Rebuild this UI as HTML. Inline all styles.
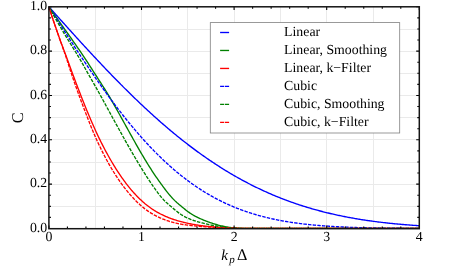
<!DOCTYPE html>
<html><head><meta charset="utf-8"><title>chart</title>
<style>
html,body{margin:0;padding:0;background:#fff;}
body{width:457px;height:274px;position:relative;overflow:hidden;font-family:"Liberation Serif",serif;}
svg text{font-family:"Liberation Serif",serif;fill:#000;text-rendering:geometricPrecision;}
</style></head><body>
<div id="wrap" style="position:absolute;left:0;top:0;width:457px;height:274px;background:#fff;will-change:transform;transform:translateZ(0)">
<svg width="457" height="274" viewBox="0 0 457 274" style="position:absolute;left:0;top:0">
<rect x="0" y="0" width="457" height="274" fill="#fff"/>
<path d="M95.5,6.8V228.5M141.5,6.8V228.5M187.5,6.8V228.5M234.5,6.8V228.5M280.5,6.8V228.5M326.5,6.8V228.5M373.5,6.8V228.5M48.9,206.5H419.3M48.9,184.5H419.3M48.9,162.5H419.3M48.9,139.5H419.3M48.9,117.5H419.3M48.9,95.5H419.3M48.9,73.5H419.3M48.9,51.5H419.3M48.9,29.5H419.3" stroke="#eaeaea" stroke-width="1" fill="none"/>
<clipPath id="c"><rect x="48.9" y="6.8" width="370.40000000000003" height="221.45"/></clipPath>
<g clip-path="url(#c)" fill="none" stroke-width="1.35" stroke-linejoin="round">
<path d="M48.90,6.80 L49.90,7.92 L50.90,9.04 L51.90,10.16 L52.90,11.27 L53.91,12.39 L54.91,13.51 L55.91,14.63 L56.91,15.74 L57.91,16.86 L58.91,17.98 L59.91,19.09 L60.91,20.21 L61.91,21.32 L62.92,22.44 L63.92,23.55 L64.92,24.66 L65.92,25.78 L66.92,26.89 L67.92,28.00 L68.92,29.11 L69.92,30.22 L70.92,31.32 L71.92,32.43 L72.93,33.54 L73.93,34.64 L74.93,35.74 L75.93,36.85 L76.93,37.95 L77.93,39.05 L78.93,40.15 L79.93,41.24 L80.93,42.34 L81.94,43.43 L82.94,44.53 L83.94,45.62 L84.94,46.71 L85.94,47.80 L86.94,48.88 L87.94,49.97 L88.94,51.05 L89.94,52.13 L90.95,53.21 L91.95,54.29 L92.95,55.37 L93.95,56.44 L94.95,57.51 L95.95,58.58 L96.95,59.65 L97.95,60.72 L98.95,61.78 L99.96,62.84 L100.96,63.90 L101.96,64.96 L102.96,66.02 L103.96,67.07 L104.96,68.12 L105.96,69.17 L106.96,70.22 L107.96,71.26 L108.96,72.30 L109.97,73.34 L110.97,74.38 L111.97,75.41 L112.97,76.44 L113.97,77.47 L114.97,78.50 L115.97,79.52 L116.97,80.54 L117.97,81.56 L118.98,82.57 L119.98,83.59 L120.98,84.60 L121.98,85.60 L122.98,86.61 L123.98,87.61 L124.98,88.61 L125.98,89.60 L126.98,90.60 L127.99,91.58 L128.99,92.57 L129.99,93.55 L130.99,94.53 L131.99,95.51 L132.99,96.49 L133.99,97.46 L134.99,98.42 L135.99,99.39 L137.00,100.35 L138.00,101.31 L139.00,102.26 L140.00,103.21 L141.00,104.16 L142.00,105.11 L143.00,106.05 L144.00,106.99 L145.00,107.92 L146.00,108.85 L147.01,109.78 L148.01,110.70 L149.01,111.62 L150.01,112.54 L151.01,113.45 L152.01,114.36 L153.01,115.27 L154.01,116.17 L155.01,117.07 L156.02,117.97 L157.02,118.86 L158.02,119.75 L159.02,120.63 L160.02,121.51 L161.02,122.39 L162.02,123.26 L163.02,124.13 L164.02,125.00 L165.03,125.86 L166.03,126.72 L167.03,127.57 L168.03,128.42 L169.03,129.27 L170.03,130.11 L171.03,130.95 L172.03,131.78 L173.03,132.61 L174.04,133.44 L175.04,134.26 L176.04,135.08 L177.04,135.90 L178.04,136.71 L179.04,137.51 L180.04,138.32 L181.04,139.12 L182.04,139.91 L183.04,140.70 L184.05,141.49 L185.05,142.27 L186.05,143.05 L187.05,143.82 L188.05,144.60 L189.05,145.36 L190.05,146.12 L191.05,146.88 L192.05,147.64 L193.06,148.39 L194.06,149.13 L195.06,149.88 L196.06,150.61 L197.06,151.35 L198.06,152.08 L199.06,152.80 L200.06,153.52 L201.06,154.24 L202.07,154.95 L203.07,155.66 L204.07,156.37 L205.07,157.07 L206.07,157.76 L207.07,158.45 L208.07,159.14 L209.07,159.83 L210.07,160.51 L211.08,161.18 L212.08,161.85 L213.08,162.52 L214.08,163.18 L215.08,163.84 L216.08,164.49 L217.08,165.14 L218.08,165.79 L219.08,166.43 L220.08,167.07 L221.09,167.70 L222.09,168.33 L223.09,168.96 L224.09,169.58 L225.09,170.20 L226.09,170.81 L227.09,171.42 L228.09,172.02 L229.09,172.62 L230.10,173.22 L231.10,173.81 L232.10,174.40 L233.10,174.98 L234.10,175.56 L235.10,176.13 L236.10,176.71 L237.10,177.27 L238.10,177.84 L239.11,178.39 L240.11,178.95 L241.11,179.50 L242.11,180.05 L243.11,180.59 L244.11,181.13 L245.11,181.66 L246.11,182.19 L247.11,182.72 L248.12,183.24 L249.12,183.76 L250.12,184.27 L251.12,184.78 L252.12,185.29 L253.12,185.79 L254.12,186.29 L255.12,186.78 L256.12,187.27 L257.12,187.76 L258.13,188.24 L259.13,188.72 L260.13,189.19 L261.13,189.66 L262.13,190.13 L263.13,190.59 L264.13,191.05 L265.13,191.51 L266.13,191.96 L267.14,192.41 L268.14,192.85 L269.14,193.29 L270.14,193.72 L271.14,194.16 L272.14,194.58 L273.14,195.01 L274.14,195.43 L275.14,195.85 L276.15,196.26 L277.15,196.67 L278.15,197.08 L279.15,197.48 L280.15,197.88 L281.15,198.27 L282.15,198.66 L283.15,199.05 L284.15,199.43 L285.16,199.81 L286.16,200.19 L287.16,200.56 L288.16,200.93 L289.16,201.30 L290.16,201.66 L291.16,202.02 L292.16,202.38 L293.16,202.73 L294.16,203.08 L295.17,203.43 L296.17,203.77 L297.17,204.11 L298.17,204.44 L299.17,204.77 L300.17,205.10 L301.17,205.43 L302.17,205.75 L303.17,206.07 L304.18,206.38 L305.18,206.70 L306.18,207.00 L307.18,207.31 L308.18,207.61 L309.18,207.91 L310.18,208.21 L311.18,208.50 L312.18,208.79 L313.19,209.08 L314.19,209.36 L315.19,209.64 L316.19,209.92 L317.19,210.19 L318.19,210.46 L319.19,210.73 L320.19,211.00 L321.19,211.26 L322.20,211.52 L323.20,211.78 L324.20,212.03 L325.20,212.28 L326.20,212.53 L327.20,212.78 L328.20,213.02 L329.20,213.26 L330.20,213.49 L331.20,213.73 L332.21,213.96 L333.21,214.19 L334.21,214.41 L335.21,214.64 L336.21,214.86 L337.21,215.07 L338.21,215.29 L339.21,215.50 L340.21,215.71 L341.22,215.92 L342.22,216.12 L343.22,216.33 L344.22,216.53 L345.22,216.72 L346.22,216.92 L347.22,217.11 L348.22,217.30 L349.22,217.49 L350.23,217.67 L351.23,217.85 L352.23,218.03 L353.23,218.21 L354.23,218.39 L355.23,218.56 L356.23,218.73 L357.23,218.90 L358.23,219.07 L359.24,219.23 L360.24,219.39 L361.24,219.55 L362.24,219.71 L363.24,219.87 L364.24,220.02 L365.24,220.17 L366.24,220.32 L367.24,220.47 L368.24,220.61 L369.25,220.76 L370.25,220.90 L371.25,221.04 L372.25,221.17 L373.25,221.31 L374.25,221.44 L375.25,221.57 L376.25,221.70 L377.25,221.83 L378.26,221.96 L379.26,222.08 L380.26,222.20 L381.26,222.32 L382.26,222.44 L383.26,222.56 L384.26,222.67 L385.26,222.78 L386.26,222.90 L387.27,223.00 L388.27,223.11 L389.27,223.22 L390.27,223.32 L391.27,223.43 L392.27,223.53 L393.27,223.63 L394.27,223.73 L395.27,223.82 L396.28,223.92 L397.28,224.01 L398.28,224.10 L399.28,224.19 L400.28,224.28 L401.28,224.37 L402.28,224.46 L403.28,224.54 L404.28,224.63 L405.28,224.71 L406.29,224.79 L407.29,224.87 L408.29,224.94 L409.29,225.02 L410.29,225.10 L411.29,225.17 L412.29,225.24 L413.29,225.31 L414.29,225.39 L415.30,225.45 L416.30,225.52 L417.30,225.59 L418.30,225.65 L419.30,225.72" stroke="#0000ff"/>
<path d="M48.90,6.80 L49.90,8.24 L50.90,9.67 L51.90,11.10 L52.90,12.52 L53.91,13.95 L54.91,15.37 L55.91,16.79 L56.91,18.21 L57.91,19.62 L58.91,21.04 L59.91,22.46 L60.91,23.87 L61.91,25.28 L62.92,26.69 L63.92,28.11 L64.92,29.52 L65.92,30.93 L66.92,32.34 L67.92,33.75 L68.92,35.17 L69.92,36.58 L70.92,38.00 L71.92,39.42 L72.93,40.85 L73.93,42.27 L74.93,43.71 L75.93,45.14 L76.93,46.58 L77.93,48.02 L78.93,49.47 L79.93,50.92 L80.93,52.38 L81.94,53.86 L82.94,55.35 L83.94,56.85 L84.94,58.36 L85.94,59.88 L86.94,61.42 L87.94,62.96 L88.94,64.51 L89.94,66.06 L90.95,67.62 L91.95,69.18 L92.95,70.74 L93.95,72.30 L94.95,73.86 L95.95,75.41 L96.95,76.96 L97.95,78.51 L98.95,80.07 L99.96,81.62 L100.96,83.17 L101.96,84.74 L102.96,86.30 L103.96,87.88 L104.96,89.47 L105.96,91.07 L106.96,92.68 L107.96,94.31 L108.96,95.95 L109.97,97.63 L110.97,99.32 L111.97,101.05 L112.97,102.79 L113.97,104.55 L114.97,106.32 L115.97,108.10 L116.97,109.90 L117.97,111.70 L118.98,113.49 L119.98,115.29 L120.98,117.09 L121.98,118.88 L122.98,120.67 L123.98,122.48 L124.98,124.28 L125.98,126.10 L126.98,127.91 L127.99,129.72 L128.99,131.53 L129.99,133.34 L130.99,135.14 L131.99,136.94 L132.99,138.73 L133.99,140.51 L134.99,142.29 L135.99,144.06 L137.00,145.82 L138.00,147.58 L139.00,149.33 L140.00,151.07 L141.00,152.80 L142.00,154.51 L143.00,156.21 L144.00,157.90 L145.00,159.57 L146.00,161.22 L147.01,162.86 L148.01,164.48 L149.01,166.08 L150.01,167.66 L151.01,169.22 L152.01,170.77 L153.01,172.30 L154.01,173.81 L155.01,175.30 L156.02,176.77 L157.02,178.23 L158.02,179.66 L159.02,181.08 L160.02,182.47 L161.02,183.85 L162.02,185.22 L163.02,186.57 L164.02,187.92 L165.03,189.25 L166.03,190.55 L167.03,191.84 L168.03,193.09 L169.03,194.32 L170.03,195.51 L171.03,196.66 L172.03,197.78 L173.03,198.85 L174.04,199.89 L175.04,200.88 L176.04,201.82 L177.04,202.72 L178.04,203.58 L179.04,204.42 L180.04,205.26 L181.04,206.08 L182.04,206.92 L183.04,207.75 L184.05,208.57 L185.05,209.38 L186.05,210.17 L187.05,210.94 L188.05,211.69 L189.05,212.41 L190.05,213.11 L191.05,213.77 L192.05,214.40 L193.06,215.00 L194.06,215.57 L195.06,216.12 L196.06,216.64 L197.06,217.15 L198.06,217.64 L199.06,218.11 L200.06,218.56 L201.06,219.00 L202.07,219.43 L203.07,219.85 L204.07,220.26 L205.07,220.66 L206.07,221.05 L207.07,221.43 L208.07,221.80 L209.07,222.17 L210.07,222.52 L211.08,222.87 L212.08,223.21 L213.08,223.55 L214.08,223.87 L215.08,224.18 L216.08,224.48 L217.08,224.77 L218.08,225.05 L219.08,225.31 L220.08,225.56 L221.09,225.80 L222.09,226.03 L223.09,226.24 L224.09,226.44 L225.09,226.63 L226.09,226.81 L227.09,226.98 L228.09,227.15 L229.09,227.30 L230.10,227.44 L231.10,227.57 L232.10,227.68 L233.10,227.78 L234.10,227.87 L235.10,227.95 L236.10,228.01 L237.10,228.08 L238.10,228.13 L239.11,228.18 L240.11,228.22 L241.11,228.26 L242.11,228.29 L243.11,228.32 L244.11,228.34 L245.11,228.37 L246.11,228.38 L247.11,228.40 L248.12,228.41 L249.12,228.43 L250.12,228.44 L251.12,228.45 L252.12,228.45 L253.12,228.46 L254.12,228.47 L255.12,228.47 L256.12,228.48 L257.12,228.48 L419.30,228.50" stroke="#008000"/>
<path d="M48.90,6.80 L49.90,9.95 L50.90,13.06 L51.90,16.13 L52.90,19.17 L53.91,22.18 L54.91,25.14 L55.91,28.08 L56.91,30.97 L57.91,33.83 L58.91,36.64 L59.91,39.42 L60.91,42.16 L61.91,44.87 L62.92,47.56 L63.92,50.22 L64.92,52.87 L65.92,55.55 L66.92,58.27 L67.92,61.01 L68.92,63.77 L69.92,66.53 L70.92,69.29 L71.92,72.01 L72.93,74.69 L73.93,77.36 L74.93,80.02 L75.93,82.66 L76.93,85.29 L77.93,87.91 L78.93,90.52 L79.93,93.10 L80.93,95.67 L81.94,98.23 L82.94,100.76 L83.94,103.27 L84.94,105.76 L85.94,108.22 L86.94,110.66 L87.94,113.08 L88.94,115.46 L89.94,117.82 L90.95,120.17 L91.95,122.49 L92.95,124.78 L93.95,127.05 L94.95,129.29 L95.95,131.49 L96.95,133.65 L97.95,135.78 L98.95,137.86 L99.96,139.91 L100.96,141.93 L101.96,143.91 L102.96,145.87 L103.96,147.80 L104.96,149.70 L105.96,151.57 L106.96,153.42 L107.96,155.24 L108.96,157.03 L109.97,158.80 L110.97,160.53 L111.97,162.24 L112.97,163.92 L113.97,165.57 L114.97,167.19 L115.97,168.79 L116.97,170.36 L117.97,171.90 L118.98,173.42 L119.98,174.91 L120.98,176.38 L121.98,177.81 L122.98,179.23 L123.98,180.61 L124.98,181.97 L125.98,183.30 L126.98,184.61 L127.99,185.89 L128.99,187.14 L129.99,188.36 L130.99,189.56 L131.99,190.73 L132.99,191.87 L133.99,192.98 L134.99,194.07 L135.99,195.13 L137.00,196.17 L138.00,197.19 L139.00,198.18 L140.00,199.15 L141.00,200.10 L142.00,201.02 L143.00,201.92 L144.00,202.79 L145.00,203.65 L146.00,204.47 L147.01,205.28 L148.01,206.06 L149.01,206.82 L150.01,207.56 L151.01,208.27 L152.01,208.96 L153.01,209.63 L154.01,210.28 L155.01,210.90 L156.02,211.51 L157.02,212.09 L158.02,212.65 L159.02,213.20 L160.02,213.73 L161.02,214.24 L162.02,214.73 L163.02,215.21 L164.02,215.67 L165.03,216.12 L166.03,216.56 L167.03,216.98 L168.03,217.38 L169.03,217.78 L170.03,218.16 L171.03,218.53 L172.03,218.89 L173.03,219.24 L174.04,219.58 L175.04,219.91 L176.04,220.23 L177.04,220.54 L178.04,220.84 L179.04,221.14 L180.04,221.42 L181.04,221.69 L182.04,221.96 L183.04,222.22 L184.05,222.47 L185.05,222.71 L186.05,222.94 L187.05,223.16 L188.05,223.38 L189.05,223.58 L190.05,223.78 L191.05,223.97 L192.05,224.16 L193.06,224.34 L194.06,224.51 L195.06,224.68 L196.06,224.84 L197.06,225.00 L198.06,225.15 L199.06,225.30 L200.06,225.44 L201.06,225.57 L202.07,225.71 L203.07,225.83 L204.07,225.96 L205.07,226.08 L206.07,226.19 L207.07,226.30 L208.07,226.41 L209.07,226.52 L210.07,226.62 L211.08,226.71 L212.08,226.81 L213.08,226.90 L214.08,226.99 L215.08,227.07 L216.08,227.15 L217.08,227.23 L218.08,227.31 L219.08,227.38 L220.08,227.46 L221.09,227.52 L222.09,227.59 L223.09,227.65 L224.09,227.71 L225.09,227.77 L226.09,227.83 L227.09,227.89 L228.09,227.94 L229.09,227.99 L230.10,228.04 L231.10,228.09 L232.10,228.13 L233.10,228.16 L234.10,228.20 L235.10,228.23 L236.10,228.26 L237.10,228.28 L238.10,228.30 L239.11,228.33 L240.11,228.34 L241.11,228.36 L242.11,228.38 L243.11,228.39 L244.11,228.40 L245.11,228.41 L246.11,228.42 L247.11,228.43 L248.12,228.44 L249.12,228.45 L250.12,228.45 L251.12,228.46 L252.12,228.46 L253.12,228.47 L254.12,228.47 L255.12,228.48 L256.12,228.48 L419.30,228.50" stroke="#ff0000"/>
<path d="M48.90,6.80 L49.90,8.37 L50.90,9.94 L51.90,11.51 L52.90,13.08 L53.91,14.65 L54.91,16.22 L55.91,17.79 L56.91,19.36 L57.91,20.93 L58.91,22.49 L59.91,24.06 L60.91,25.62 L61.91,27.18 L62.92,28.74 L63.92,30.30 L64.92,31.86 L65.92,33.41 L66.92,34.96 L67.92,36.51 L68.92,38.06 L69.92,39.61 L70.92,41.15 L71.92,42.69 L72.93,44.22 L73.93,45.76 L74.93,47.29 L75.93,48.82 L76.93,50.34 L77.93,51.86 L78.93,53.38 L79.93,54.90 L80.93,56.41 L81.94,57.91 L82.94,59.42 L83.94,60.91 L84.94,62.41 L85.94,63.90 L86.94,65.38 L87.94,66.87 L88.94,68.34 L89.94,69.82 L90.95,71.28 L91.95,72.75 L92.95,74.20 L93.95,75.66 L94.95,77.11 L95.95,78.55 L96.95,79.99 L97.95,81.42 L98.95,82.84 L99.96,84.27 L100.96,85.68 L101.96,87.09 L102.96,88.49 L103.96,89.89 L104.96,91.28 L105.96,92.67 L106.96,94.05 L107.96,95.42 L108.96,96.79 L109.97,98.15 L110.97,99.51 L111.97,100.85 L112.97,102.20 L113.97,103.53 L114.97,104.86 L115.97,106.18 L116.97,107.49 L117.97,108.80 L118.98,110.10 L119.98,111.40 L120.98,112.68 L121.98,113.96 L122.98,115.23 L123.98,116.50 L124.98,117.76 L125.98,119.01 L126.98,120.25 L127.99,121.49 L128.99,122.71 L129.99,123.93 L130.99,125.15 L131.99,126.35 L132.99,127.55 L133.99,128.74 L134.99,129.92 L135.99,131.09 L137.00,132.26 L138.00,133.42 L139.00,134.57 L140.00,135.71 L141.00,136.84 L142.00,137.97 L143.00,139.09 L144.00,140.20 L145.00,141.30 L146.00,142.39 L147.01,143.48 L148.01,144.56 L149.01,145.63 L150.01,146.69 L151.01,147.74 L152.01,148.79 L153.01,149.82 L154.01,150.85 L155.01,151.87 L156.02,152.88 L157.02,153.88 L158.02,154.88 L159.02,155.86 L160.02,156.84 L161.02,157.81 L162.02,158.77 L163.02,159.73 L164.02,160.67 L165.03,161.61 L166.03,162.53 L167.03,163.45 L168.03,164.36 L169.03,165.27 L170.03,166.16 L171.03,167.05 L172.03,167.93 L173.03,168.79 L174.04,169.66 L175.04,170.51 L176.04,171.35 L177.04,172.19 L178.04,173.02 L179.04,173.84 L180.04,174.65 L181.04,175.45 L182.04,176.24 L183.04,177.03 L184.05,177.81 L185.05,178.58 L186.05,179.34 L187.05,180.10 L188.05,180.84 L189.05,181.58 L190.05,182.31 L191.05,183.03 L192.05,183.75 L193.06,184.45 L194.06,185.15 L195.06,185.84 L196.06,186.53 L197.06,187.20 L198.06,187.87 L199.06,188.53 L200.06,189.18 L201.06,189.82 L202.07,190.46 L203.07,191.09 L204.07,191.71 L205.07,192.32 L206.07,192.93 L207.07,193.53 L208.07,194.12 L209.07,194.70 L210.07,195.28 L211.08,195.85 L212.08,196.41 L213.08,196.97 L214.08,197.51 L215.08,198.05 L216.08,198.59 L217.08,199.11 L218.08,199.63 L219.08,200.15 L220.08,200.65 L221.09,201.15 L222.09,201.65 L223.09,202.13 L224.09,202.61 L225.09,203.08 L226.09,203.55 L227.09,204.01 L228.09,204.46 L229.09,204.91 L230.10,205.35 L231.10,205.78 L232.10,206.21 L233.10,206.63 L234.10,207.05 L235.10,207.46 L236.10,207.86 L237.10,208.26 L238.10,208.65 L239.11,209.03 L240.11,209.41 L241.11,209.79 L242.11,210.16 L243.11,210.52 L244.11,210.87 L245.11,211.23 L246.11,211.57 L247.11,211.91 L248.12,212.25 L249.12,212.58 L250.12,212.90 L251.12,213.22 L252.12,213.53 L253.12,213.84 L254.12,214.15 L255.12,214.45 L256.12,214.74 L257.12,215.03 L258.13,215.31 L259.13,215.59 L260.13,215.87 L261.13,216.14 L262.13,216.40 L263.13,216.66 L264.13,216.92 L265.13,217.17 L266.13,217.42 L267.14,217.66 L268.14,217.90 L269.14,218.13 L270.14,218.36 L271.14,218.59 L272.14,218.81 L273.14,219.03 L274.14,219.24 L275.14,219.45 L276.15,219.66 L277.15,219.86 L278.15,220.06 L279.15,220.25 L280.15,220.44 L281.15,220.63 L282.15,220.82 L283.15,221.00 L284.15,221.17 L285.16,221.35 L286.16,221.52 L287.16,221.68 L288.16,221.85 L289.16,222.01 L290.16,222.16 L291.16,222.32 L292.16,222.47 L293.16,222.62 L294.16,222.76 L295.17,222.90 L296.17,223.04 L297.17,223.18 L298.17,223.31 L299.17,223.44 L300.17,223.57 L301.17,223.69 L302.17,223.81 L303.17,223.93 L304.18,224.05 L305.18,224.17 L306.18,224.28 L307.18,224.39 L308.18,224.49 L309.18,224.60 L310.18,224.70 L311.18,224.80 L312.18,224.90 L313.19,225.00 L314.19,225.09 L315.19,225.18 L316.19,225.27 L317.19,225.36 L318.19,225.44 L319.19,225.53 L320.19,225.61 L321.19,225.69 L322.20,225.77 L323.20,225.84 L324.20,225.92 L325.20,225.99 L326.20,226.06 L327.20,226.13 L328.20,226.20 L329.20,226.26 L330.20,226.33 L331.20,226.39 L332.21,226.45 L333.21,226.51 L334.21,226.57 L335.21,226.62 L336.21,226.68 L337.21,226.73 L338.21,226.78 L339.21,226.84 L340.21,226.89 L341.22,226.93 L342.22,226.98 L343.22,227.03 L344.22,227.07 L345.22,227.12 L346.22,227.16 L347.22,227.20 L348.22,227.24 L349.22,227.28 L350.23,227.32 L351.23,227.35 L352.23,227.39 L353.23,227.43 L354.23,227.46 L355.23,227.49 L356.23,227.52 L357.23,227.56 L358.23,227.59 L359.24,227.62 L360.24,227.64 L361.24,227.67 L362.24,227.70 L363.24,227.73 L364.24,227.75 L365.24,227.78 L366.24,227.80 L367.24,227.82 L368.24,227.85 L369.25,227.87 L370.25,227.89 L371.25,227.91 L372.25,227.93 L373.25,227.95 L374.25,227.97 L375.25,227.99 L376.25,228.01 L377.25,228.02 L378.26,228.04 L379.26,228.06 L380.26,228.07 L381.26,228.09 L382.26,228.10 L383.26,228.12 L384.26,228.13 L385.26,228.14 L386.26,228.16 L387.27,228.17 L388.27,228.18 L389.27,228.19 L390.27,228.21 L391.27,228.22 L392.27,228.23 L393.27,228.24 L394.27,228.25 L395.27,228.26 L396.28,228.27 L397.28,228.28 L398.28,228.28 L399.28,228.29 L400.28,228.30 L401.28,228.31 L402.28,228.32 L403.28,228.32 L404.28,228.33 L405.28,228.34 L406.29,228.34 L407.29,228.35 L408.29,228.36 L409.29,228.36 L410.29,228.37 L411.29,228.37 L412.29,228.38 L413.29,228.38 L414.29,228.39 L415.30,228.39 L416.30,228.40 L417.30,228.40 L418.30,228.41 L419.30,228.41" stroke="#0000ff" stroke-dasharray="3.45 1.2"/>
<path d="M48.90,6.80 L49.90,8.63 L50.90,10.44 L51.90,12.25 L52.90,14.04 L53.91,15.82 L54.91,17.59 L55.91,19.35 L56.91,21.10 L57.91,22.84 L58.91,24.56 L59.91,26.28 L60.91,27.99 L61.91,29.68 L62.92,31.37 L63.92,33.04 L64.92,34.71 L65.92,36.36 L66.92,38.00 L67.92,39.64 L68.92,41.26 L69.92,42.88 L70.92,44.49 L71.92,46.10 L72.93,47.71 L73.93,49.31 L74.93,50.91 L75.93,52.51 L76.93,54.14 L77.93,55.81 L78.93,57.49 L79.93,59.20 L80.93,60.94 L81.94,62.69 L82.94,64.45 L83.94,66.22 L84.94,68.00 L85.94,69.78 L86.94,71.55 L87.94,73.30 L88.94,75.05 L89.94,76.80 L90.95,78.56 L91.95,80.32 L92.95,82.09 L93.95,83.86 L94.95,85.64 L95.95,87.42 L96.95,89.20 L97.95,90.99 L98.95,92.78 L99.96,94.58 L100.96,96.38 L101.96,98.19 L102.96,100.00 L103.96,101.82 L104.96,103.65 L105.96,105.49 L106.96,107.32 L107.96,109.16 L108.96,111.00 L109.97,112.83 L110.97,114.67 L111.97,116.50 L112.97,118.33 L113.97,120.15 L114.97,121.98 L115.97,123.80 L116.97,125.62 L117.97,127.44 L118.98,129.25 L119.98,131.07 L120.98,132.87 L121.98,134.68 L122.98,136.48 L123.98,138.27 L124.98,140.06 L125.98,141.84 L126.98,143.61 L127.99,145.38 L128.99,147.13 L129.99,148.88 L130.99,150.62 L131.99,152.35 L132.99,154.07 L133.99,155.79 L134.99,157.49 L135.99,159.18 L137.00,160.86 L138.00,162.54 L139.00,164.20 L140.00,165.85 L141.00,167.50 L142.00,169.13 L143.00,170.76 L144.00,172.37 L145.00,173.97 L146.00,175.55 L147.01,177.12 L148.01,178.66 L149.01,180.18 L150.01,181.68 L151.01,183.15 L152.01,184.60 L153.01,186.05 L154.01,187.49 L155.01,188.91 L156.02,190.32 L157.02,191.70 L158.02,193.04 L159.02,194.35 L160.02,195.62 L161.02,196.85 L162.02,198.03 L163.02,199.15 L164.02,200.23 L165.03,201.25 L166.03,202.22 L167.03,203.12 L168.03,203.99 L169.03,204.83 L170.03,205.68 L171.03,206.53 L172.03,207.39 L173.03,208.26 L174.04,209.11 L175.04,209.96 L176.04,210.79 L177.04,211.59 L178.04,212.37 L179.04,213.12 L180.04,213.83 L181.04,214.52 L182.04,215.16 L183.04,215.77 L184.05,216.34 L185.05,216.87 L186.05,217.38 L187.05,217.85 L188.05,218.30 L189.05,218.73 L190.05,219.14 L191.05,219.53 L192.05,219.90 L193.06,220.25 L194.06,220.59 L195.06,220.92 L196.06,221.24 L197.06,221.54 L198.06,221.84 L199.06,222.13 L200.06,222.40 L201.06,222.67 L202.07,222.94 L203.07,223.19 L204.07,223.44 L205.07,223.69 L206.07,223.93 L207.07,224.16 L208.07,224.39 L209.07,224.61 L210.07,224.83 L211.08,225.04 L212.08,225.25 L213.08,225.45 L214.08,225.65 L215.08,225.84 L216.08,226.02 L217.08,226.20 L218.08,226.37 L219.08,226.53 L220.08,226.68 L221.09,226.83 L222.09,226.97 L223.09,227.10 L224.09,227.22 L225.09,227.34 L226.09,227.45 L227.09,227.55 L228.09,227.65 L229.09,227.75 L230.10,227.84 L231.10,227.91 L232.10,227.98 L233.10,228.05 L234.10,228.10 L235.10,228.15 L236.10,228.19 L237.10,228.23 L238.10,228.27 L239.11,228.30 L240.11,228.32 L241.11,228.35 L242.11,228.37 L243.11,228.38 L244.11,228.40 L245.11,228.41 L246.11,228.43 L247.11,228.44 L248.12,228.45 L249.12,228.45 L250.12,228.46 L251.12,228.47 L252.12,228.47 L253.12,228.48 L254.12,228.48 L419.30,228.50" stroke="#008000" stroke-dasharray="3.45 1.2"/>
<path d="M48.90,6.80 L49.90,9.94 L50.90,13.05 L51.90,16.12 L52.90,19.15 L53.91,22.16 L54.91,25.13 L55.91,28.07 L56.91,30.98 L57.91,33.86 L58.91,36.72 L59.91,39.56 L60.91,42.37 L61.91,45.18 L62.92,47.98 L63.92,50.77 L64.92,53.61 L65.92,56.58 L66.92,59.65 L67.92,62.79 L68.92,65.96 L69.92,69.10 L70.92,72.16 L71.92,75.13 L72.93,78.07 L73.93,80.97 L74.93,83.85 L75.93,86.69 L76.93,89.50 L77.93,92.28 L78.93,95.03 L79.93,97.76 L80.93,100.46 L81.94,103.13 L82.94,105.78 L83.94,108.42 L84.94,111.03 L85.94,113.63 L86.94,116.21 L87.94,118.79 L88.94,121.35 L89.94,123.90 L90.95,126.41 L91.95,128.88 L92.95,131.30 L93.95,133.66 L94.95,135.97 L95.95,138.23 L96.95,140.44 L97.95,142.60 L98.95,144.73 L99.96,146.82 L100.96,148.87 L101.96,150.90 L102.96,152.89 L103.96,154.85 L104.96,156.77 L105.96,158.65 L106.96,160.50 L107.96,162.31 L108.96,164.09 L109.97,165.83 L110.97,167.55 L111.97,169.24 L112.97,170.89 L113.97,172.52 L114.97,174.12 L115.97,175.69 L116.97,177.23 L117.97,178.73 L118.98,180.21 L119.98,181.65 L120.98,183.06 L121.98,184.45 L122.98,185.80 L123.98,187.13 L124.98,188.42 L125.98,189.69 L126.98,190.93 L127.99,192.15 L128.99,193.34 L129.99,194.50 L130.99,195.63 L131.99,196.74 L132.99,197.83 L133.99,198.90 L134.99,199.94 L135.99,200.95 L137.00,201.94 L138.00,202.91 L139.00,203.84 L140.00,204.76 L141.00,205.64 L142.00,206.50 L143.00,207.34 L144.00,208.14 L145.00,208.92 L146.00,209.68 L147.01,210.41 L148.01,211.11 L149.01,211.79 L150.01,212.44 L151.01,213.07 L152.01,213.67 L153.01,214.25 L154.01,214.81 L155.01,215.35 L156.02,215.88 L157.02,216.39 L158.02,216.88 L159.02,217.35 L160.02,217.81 L161.02,218.25 L162.02,218.67 L163.02,219.08 L164.02,219.48 L165.03,219.86 L166.03,220.22 L167.03,220.57 L168.03,220.90 L169.03,221.23 L170.03,221.53 L171.03,221.83 L172.03,222.11 L173.03,222.38 L174.04,222.64 L175.04,222.88 L176.04,223.12 L177.04,223.34 L178.04,223.55 L179.04,223.76 L180.04,223.95 L181.04,224.13 L182.04,224.31 L183.04,224.47 L184.05,224.63 L185.05,224.78 L186.05,224.92 L187.05,225.06 L188.05,225.19 L189.05,225.31 L190.05,225.43 L191.05,225.54 L192.05,225.65 L193.06,225.76 L194.06,225.86 L195.06,225.95 L196.06,226.05 L197.06,226.14 L198.06,226.23 L199.06,226.31 L200.06,226.39 L201.06,226.47 L202.07,226.55 L203.07,226.63 L204.07,226.70 L205.07,226.77 L206.07,226.84 L207.07,226.91 L208.07,226.98 L209.07,227.04 L210.07,227.11 L211.08,227.17 L212.08,227.23 L213.08,227.29 L214.08,227.36 L215.08,227.42 L216.08,227.48 L217.08,227.54 L218.08,227.60 L219.08,227.65 L220.08,227.71 L221.09,227.76 L222.09,227.81 L223.09,227.86 L224.09,227.91 L225.09,227.95 L226.09,228.00 L227.09,228.04 L228.09,228.08 L229.09,228.12 L230.10,228.16 L231.10,228.19 L232.10,228.22 L233.10,228.25 L234.10,228.28 L235.10,228.30 L236.10,228.32 L237.10,228.34 L238.10,228.35 L239.11,228.37 L240.11,228.38 L241.11,228.40 L242.11,228.41 L243.11,228.42 L244.11,228.43 L245.11,228.43 L246.11,228.44 L247.11,228.45 L248.12,228.45 L249.12,228.46 L250.12,228.46 L251.12,228.47 L252.12,228.47 L253.12,228.47 L254.12,228.48 L255.12,228.48 L419.30,228.50" stroke="#ff0000" stroke-dasharray="3.45 1.2"/>
</g>
<path d="M48.90,228.5v-3.1M48.90,6.8v3.1M67.42,228.5v-2.0M67.42,6.8v2.0M85.94,228.5v-2.0M85.94,6.8v2.0M104.46,228.5v-2.0M104.46,6.8v2.0M122.98,228.5v-2.0M122.98,6.8v2.0M141.50,228.5v-3.1M141.50,6.8v3.1M160.02,228.5v-2.0M160.02,6.8v2.0M178.54,228.5v-2.0M178.54,6.8v2.0M197.06,228.5v-2.0M197.06,6.8v2.0M215.58,228.5v-2.0M215.58,6.8v2.0M234.10,228.5v-3.1M234.10,6.8v3.1M252.62,228.5v-2.0M252.62,6.8v2.0M271.14,228.5v-2.0M271.14,6.8v2.0M289.66,228.5v-2.0M289.66,6.8v2.0M308.18,228.5v-2.0M308.18,6.8v2.0M326.70,228.5v-3.1M326.70,6.8v3.1M345.22,228.5v-2.0M345.22,6.8v2.0M363.74,228.5v-2.0M363.74,6.8v2.0M382.26,228.5v-2.0M382.26,6.8v2.0M400.78,228.5v-2.0M400.78,6.8v2.0M419.30,228.5v-3.1M419.30,6.8v3.1M48.9,228.50h3.1M419.3,228.50h-3.1M48.9,217.41h2.0M419.3,217.41h-2.0M48.9,206.33h2.0M419.3,206.33h-2.0M48.9,195.25h2.0M419.3,195.25h-2.0M48.9,184.16h3.1M419.3,184.16h-3.1M48.9,173.07h2.0M419.3,173.07h-2.0M48.9,161.99h2.0M419.3,161.99h-2.0M48.9,150.91h2.0M419.3,150.91h-2.0M48.9,139.82h3.1M419.3,139.82h-3.1M48.9,128.73h2.0M419.3,128.73h-2.0M48.9,117.65h2.0M419.3,117.65h-2.0M48.9,106.56h2.0M419.3,106.56h-2.0M48.9,95.48h3.1M419.3,95.48h-3.1M48.9,84.39h2.0M419.3,84.39h-2.0M48.9,73.31h2.0M419.3,73.31h-2.0M48.9,62.22h2.0M419.3,62.22h-2.0M48.9,51.14h3.1M419.3,51.14h-3.1M48.9,40.05h2.0M419.3,40.05h-2.0M48.9,28.97h2.0M419.3,28.97h-2.0M48.9,17.88h2.0M419.3,17.88h-2.0M48.9,6.80h3.1M419.3,6.80h-3.1" stroke="#000" stroke-width="1.1" fill="none"/>
<rect x="48.9" y="6.8" width="370.40000000000003" height="221.90" fill="none" stroke="#141414" stroke-width="1.5"/>
<rect x="210.3" y="22.6" width="189.39999999999998" height="110.4" fill="#fff" stroke="#808080" stroke-width="0.8"/>
<path d="M220.1,32.50H229.1" stroke="#0000ff" stroke-width="1.35" fill="none"/>
<text x="284.1" y="35.80" font-size="13.8">Linear</text>
<path d="M220.1,50.47H229.1" stroke="#008000" stroke-width="1.35" fill="none"/>
<text x="284.1" y="53.77" font-size="13.8">Linear, Smoothing</text>
<path d="M220.1,68.44H229.1" stroke="#ff0000" stroke-width="1.35" fill="none"/>
<text x="284.1" y="71.74" font-size="13.8">Linear, k−Filter</text>
<path d="M220.1,86.41H229.1" stroke="#0000ff" stroke-width="1.35" stroke-dasharray="4.15 0.75" fill="none"/>
<text x="284.1" y="89.71" font-size="13.8">Cubic</text>
<path d="M220.1,104.38H229.1" stroke="#008000" stroke-width="1.35" stroke-dasharray="4.15 0.75" fill="none"/>
<text x="284.1" y="107.68" font-size="13.8">Cubic, Smoothing</text>
<path d="M220.1,122.35H229.1" stroke="#ff0000" stroke-width="1.35" stroke-dasharray="4.15 0.75" fill="none"/>
<text x="284.1" y="125.65" font-size="13.8">Cubic, k−Filter</text>
<text x="47.2" y="231.80" font-size="13.8" text-anchor="end">0.0</text>
<text x="47.2" y="187.46" font-size="13.8" text-anchor="end">0.2</text>
<text x="47.2" y="143.12" font-size="13.8" text-anchor="end">0.4</text>
<text x="47.2" y="98.78" font-size="13.8" text-anchor="end">0.6</text>
<text x="47.2" y="54.44" font-size="13.8" text-anchor="end">0.8</text>
<text x="47.2" y="10.10" font-size="13.8" text-anchor="end">1.0</text>
<text x="48.90" y="240.6" font-size="13.8" text-anchor="middle">0</text>
<text x="141.50" y="240.6" font-size="13.8" text-anchor="middle">1</text>
<text x="234.10" y="240.6" font-size="13.8" text-anchor="middle">2</text>
<text x="326.70" y="240.6" font-size="13.8" text-anchor="middle">3</text>
<text x="419.30" y="240.6" font-size="13.8" text-anchor="middle">4</text>
<text x="221.3" y="259.9" font-size="15" font-style="italic">k</text>
<text x="229.3" y="262.6" font-size="11" font-style="italic">p</text>
<text x="237.0" y="259.9" font-size="16.2">Δ</text>
<text transform="translate(22.6,117.7) rotate(-90)" font-size="16.4" text-anchor="middle">C</text>
</svg>
</div>
</body></html>
